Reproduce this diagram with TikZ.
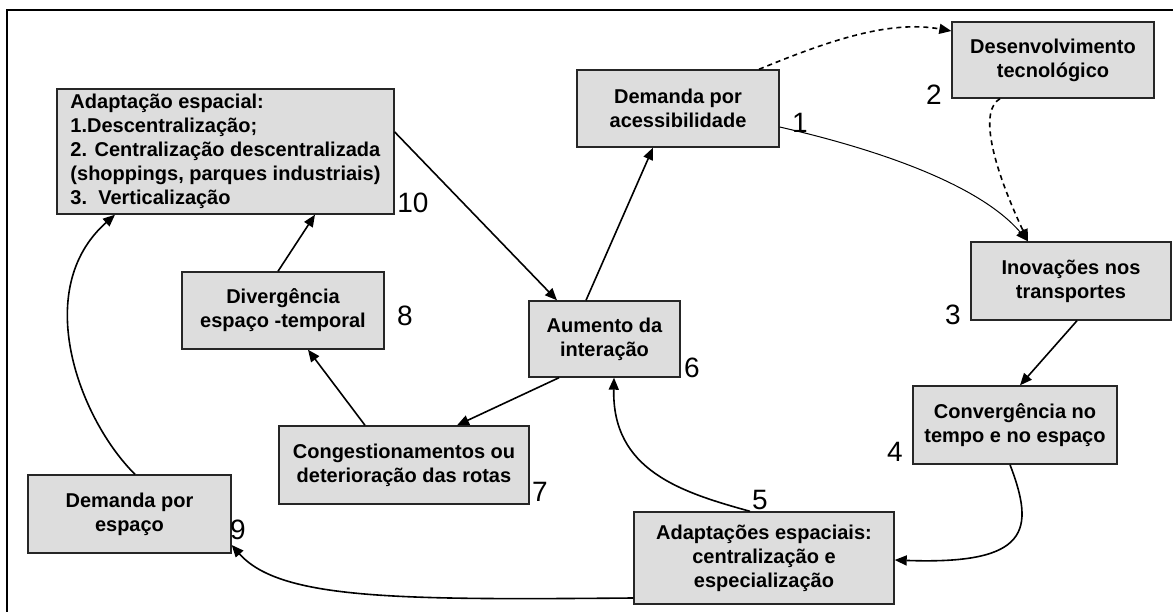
\documentclass[tikz,border=0pt]{standalone}
\usepackage{fontspec}
\setmainfont{Liberation Sans}
\usetikzlibrary{arrows.meta,positioning}
\definecolor{boxgray}{HTML}{DDDDDD}
\definecolor{edgegray}{HTML}{262626}

\begin{document}
\begin{tikzpicture}[x=1pt, y=-1pt,
  box/.style={draw=edgegray, line width=1.4pt, fill=boxgray, align=center,
    inner sep=0pt, font=\fontsize{20}{24}\selectfont\bfseries},
  num/.style={font=\fontsize{28}{28}\selectfont, inner sep=0pt},
  link/.style={line width=1.6pt, -{Triangle[length=12pt,width=10pt]}},
  thinlink/.style={line width=1pt, -{Triangle[length=12pt,width=10pt]}},
  dashlink/.style={line width=1.6pt, dash pattern=on 5pt off 4pt,
    -{Triangle[length=12pt,width=10pt]}}]
  \useasboundingbox (0,0) rectangle (1173,612);

  % ── Frame (only top and left edge inside the picture) ──
  \draw[line width=1.6pt] (7,612) -- (7,10) -- (1173,10);

  % ── Boxes ──
  \node[box, minimum width=337pt, minimum height=125pt, align=left]
    (espacial) at (225.5,151.5)
    {Adaptação espacial:\\1.Descentralização;\\2. Centralização descentralizada\\
     (shoppings, parques industriais)\\3.~~Verticalização};
  \node[box, minimum width=202pt, minimum height=77pt] (acesso) at (678,108.5)
    {Demanda por\\acessibilidade};
  \node[box, minimum width=202pt, minimum height=76pt] (tecno) at (1053,60)
    {Desenvolvimento\\tecnológico};
  \node[box, minimum width=200pt, minimum height=78pt] (inova) at (1071,281)
    {Inovações nos\\transportes};
  \node[box, minimum width=204pt, minimum height=78pt] (converg) at (1015,425)
    {Convergência no\\tempo e no espaço};
  \node[box, minimum width=260pt, minimum height=92pt] (adapt) at (764,558)
    {Adaptações espaciais:\\centralização e\\especialização};
  \node[box, minimum width=151pt, minimum height=76pt] (interacao) at (604.5,339)
    {Aumento da\\interação};
  \node[box, minimum width=250pt, minimum height=78pt] (congest) at (404,465)
    {Congestionamentos ou\\deterioração das rotas};
  \node[box, minimum width=202pt, minimum height=77pt] (diverg) at (283,310.5)
    {Divergência\\espaço -temporal};
  \node[box, minimum width=203pt, minimum height=78pt] (espaco) at (129.5,514)
    {Demanda por\\espaço};

  % ── Step numbers ──
  \foreach \n/\x/\y in {1/800/123, 2/934/95, 3/953/315, 4/895/452, 5/760/500,
                        6/692/368, 7/540/492, 8/405/316, 9/238/530, 10/413/203}
    \node[num] (n\n) at (\x,\y) {\n};

  % ── Connectors ──
  \draw[link] ([yshift=19.5pt]espacial.east) -- ([xshift=-47.5pt]interacao.north);
  \draw[link] ([xshift=-18.5pt]interacao.north) -- ([xshift=-25pt]acesso.south);
  \draw[dashlink] ([xshift=81pt]acesso.north)
    .. controls (830,40) and (890,20) .. ([yshift=29pt]tecno.west);
  \draw[dashlink] ([xshift=-53pt]tecno.south)
    .. controls (980,110) and (990,160) .. ([xshift=-43pt]inova.north);
  \draw[thinlink] ([yshift=-18.5pt]acesso.east)
    .. controls (880,150) and (980,185) .. ([xshift=-43pt]inova.north);
  \draw[link] ([xshift=6pt]inova.south) -- ([xshift=5pt]converg.north);
  \draw[link] ([xshift=-5pt]converg.south)
    .. controls (1035,530) and (1030,565) .. ([yshift=-2pt]adapt.east);
  \draw[link] ([xshift=-14pt]adapt.north)
    .. controls (680,492) and (612,470) .. ([xshift=9.5pt]interacao.south);
  \draw[link] ([yshift=-40pt]adapt.west)
    .. controls (400,600) and (280,600) .. ([yshift=-31pt]espaco.east);
  \draw[link] ([xshift=-45.5pt]interacao.south) -- ([xshift=53pt]congest.north);
  \draw[link] ([xshift=-39pt]congest.north) -- ([xshift=25pt]diverg.south);
  \draw[link] ([xshift=-5pt]diverg.north) -- ([xshift=89.5pt]espacial.south);
  \draw[link] ([xshift=5.5pt]espaco.north)
    .. controls (80,420) and (30,290) .. ([xshift=-110.5pt]espacial.south);

\end{tikzpicture}
\end{document}
